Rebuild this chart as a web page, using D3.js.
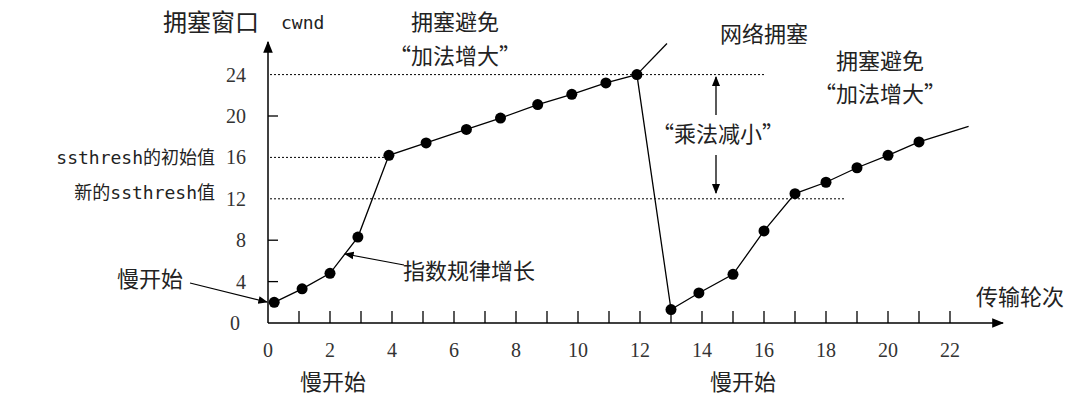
<!DOCTYPE html><html><head><meta charset="utf-8">
<script src="https://cdn.jsdelivr.net/npm/d3@7"></script>
<style>body{margin:0;background:#fff}</style></head><body>
<svg id="c" width="1080" height="404"></svg>
<script>
const rounds1 = [0.2,1.1,2,2.9,3.9,5.1,6.4,7.5,8.7,9.8,10.9,11.9];
const cwnd1 = [2,3.3,4.8,8.3,16.2,17.4,18.7,19.8,21.1,22.1,23.2,24];
const rounds2 = [13,13.9,15,16,17,18,19,20,21];
const cwnd2 = [1.3,2.9,4.7,8.9,12.5,13.6,15,16.2,17.5];
const xTicks = [0,2,4,6,8,10,12,14,16,18,20,22];
const yTicks = [0,4,8,12,16,20,24];
const thresholds = [{v:24,end:16},{v:16,end:4},{v:12,end:18.6}];

const svg = d3.select("#c");
const x = d3.scaleLinear().domain([0,22]).range([268,950]);
const y = d3.scaleLinear().domain([0,24]).range([323,74.6]);
const cn = "'Noto Sans CJK SC'", serif = "'Liberation Serif'", mono="'DejaVu Sans Mono'";
svg.append("defs").append("marker").attr("id","ah").attr("viewBox","0 0 10 10").attr("refX",9).attr("refY",5)
 .attr("markerWidth",8).attr("markerHeight",8).attr("orient","auto-start-reverse")
 .append("path").attr("d","M0,1L10,5L0,9z").attr("fill","#000");

svg.append("line").attr("x1",268).attr("y1",323).attr("x2",1003).attr("y2",323).attr("stroke","#000").attr("stroke-width",1.5).attr("marker-end","url(#ah)");
svg.append("line").attr("x1",268).attr("y1",323).attr("x2",268).attr("y2",42).attr("stroke","#000").attr("stroke-width",1.5).attr("marker-end","url(#ah)");
d3.range(1,23).forEach(i=>svg.append("line").attr("x1",x(i)).attr("x2",x(i)).attr("y1",323).attr("y2",311).attr("stroke","#000").attr("stroke-width",1.3));
[4,8,20].forEach(v=>svg.append("line").attr("x1",268).attr("x2",278).attr("y1",y(v)).attr("y2",y(v)).attr("stroke","#000").attr("stroke-width",1.3));
svg.selectAll(".xt").data(xTicks).join("text").attr("x",d=>x(d)).attr("y",357).attr("text-anchor","middle")
 .attr("font-family",serif).attr("font-size",20).attr("fill","#333").text(d=>d);
svg.selectAll(".yt").data(yTicks).join("text").attr("x",d=>d===0?240:246).attr("y",d=>y(d)+7).attr("text-anchor","end")
 .attr("font-family",serif).attr("font-size",20).attr("fill","#333").text(d=>d);

svg.selectAll(".th").data(thresholds).join("line").attr("x1",270).attr("x2",d=>x(d.end)).attr("y1",d=>y(d.v)).attr("y2",d=>y(d.v))
 .attr("stroke","#000").attr("stroke-dasharray","2,2").attr("stroke-width",1);

const pts = rounds1.map((r,i)=>[r,cwnd1[i]]).concat(rounds2.map((r,i)=>[r,cwnd2[i]]));
const line = d3.line().x(d=>x(d[0])).y(d=>y(d[1]));
svg.append("path").attr("d",line([[12.87,27],[11.9,24]])).attr("stroke","#000").attr("fill","none").attr("stroke-width",1.3);
svg.append("path").attr("d",line(pts.concat([[22.6,19]]))).attr("stroke","#000").attr("fill","none").attr("stroke-width",1.3);
svg.selectAll(".pt").data(pts).join("circle").attr("cx",d=>x(d[0])).attr("cy",d=>y(d[1])).attr("r",5.5).attr("fill","#000");

function t(s,xx,yy,opt={}){return svg.append("text").attr("x",xx).attr("y",yy).attr("font-family",opt.f||cn).attr("font-size",opt.s||22)
 .attr("text-anchor",opt.a||"middle").attr("fill","#222").text(s);}
t("拥塞窗口",163,31,{a:"start",s:24});
t("cwnd",281,29,{a:"start",f:mono,s:18});
t("ssthresh的初始值",215,164,{a:"end",f:mono+","+cn,s:18});
t("新的ssthresh值",215,199,{a:"end",f:mono+","+cn,s:18});
t("慢开始",150,287);
t("拥塞避免",455,30);
t("“加法增大”",455,64);
t("网络拥塞",720,42,{a:"start"});
t("拥塞避免",880,69);
t("“加法增大”",880,102);
t("“乘法减小”",718,142);
t("指数规律增长",403,279,{a:"start"});
t("传输轮次",1020,305);
t("慢开始",333,390);
t("慢开始",743,390);
svg.append("line").attr("x1",190).attr("y1",283).attr("x2",267).attr("y2",302).attr("stroke","#000").attr("stroke-width",1.2).attr("marker-end","url(#ah)");
svg.append("line").attr("x1",404).attr("y1",265).attr("x2",345).attr("y2",254).attr("stroke","#000").attr("stroke-width",1.2).attr("marker-end","url(#ah)");
svg.append("line").attr("x1",716).attr("y1",115).attr("x2",716).attr("y2",77).attr("stroke","#000").attr("stroke-width",1.3).attr("marker-end","url(#ah)");
svg.append("line").attr("x1",716).attr("y1",155).attr("x2",716).attr("y2",193).attr("stroke","#000").attr("stroke-width",1.3).attr("marker-end","url(#ah)");
</script></body></html>
